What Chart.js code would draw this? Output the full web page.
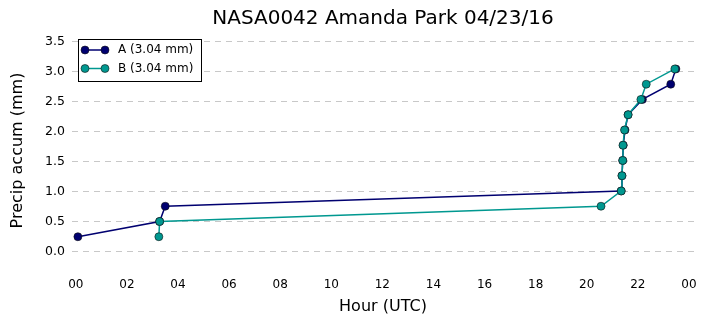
<!DOCTYPE html>
<html>
<head>
<meta charset="utf-8">
<script src="https://cdn.jsdelivr.net/npm/chart.js@4/dist/chart.umd.min.js"></script>
<style>
  html, body { margin: 0; padding: 0; background: #fff; }
  #wrap { width: 706px; height: 326px; }
</style>
</head>
<body>
<div id="wrap"><canvas id="chart" width="706" height="326"></canvas></div>
<script>
// gauge A and B, hour of day (UTC) at each 0.254 mm tip
const hoursA = [0.08, 3.28, 3.5, 21.35, 21.38, 21.41, 21.43, 21.5, 21.62, 22.18, 23.29, 23.49];
const accumA = [0.254, 0.508, 0.762, 1.016, 1.27, 1.524, 1.778, 2.032, 2.286, 2.54, 2.794, 3.048];
const hoursB = [3.25, 3.28, 20.56, 21.35, 21.38, 21.41, 21.42, 21.48, 21.62, 22.12, 22.33, 23.45];
const accumB = [0.254, 0.508, 0.762, 1.016, 1.27, 1.524, 1.778, 2.032, 2.286, 2.54, 2.794, 3.048];
const seriesLabels = ["A (3.04 mm)", "B (3.04 mm)"];
const xTicks = [0, 2, 4, 6, 8, 10, 12, 14, 16, 18, 20, 22, 24];
const yTicks = [0, 0.5, 1, 1.5, 2, 2.5, 3, 3.5];
const chartTitle = "NASA0042 Amanda Park 04/23/16";

const FONT = "'DejaVu Sans', sans-serif";
const colors = ["#000070", "#009890"];

const toPoints = (xs, ys) => xs.map((x, i) => ({ x: x, y: ys[i] }));

// title centred over the axes, matplotlib style legend in the upper left
const decorations = {
  id: "decorations",
  afterDraw(chart) {
    const ctx = chart.ctx;
    const area = chart.chartArea;
    ctx.save();
    ctx.fillStyle = "#000";
    ctx.font = "20px " + FONT;
    ctx.textAlign = "center";
    ctx.textBaseline = "middle";
    ctx.fillText(chartTitle, (area.left + area.right) / 2, 19);

    const x0 = area.left + 6, y0 = area.top + 8;
    const w = 123, h = 42;
    ctx.textAlign = "left";
    ctx.fillStyle = "#fff";
    ctx.fillRect(x0, y0, w, h);
    ctx.strokeStyle = "#000";
    ctx.lineWidth = 1;
    ctx.strokeRect(x0 + 0.5, y0 + 0.5, w, h);
    chart.data.datasets.forEach((ds, i) => {
      const cy = y0 + 11 + i * 18.5;
      ctx.strokeStyle = ds.borderColor;
      ctx.lineWidth = 1.5;
      ctx.beginPath();
      ctx.moveTo(x0 + 7, cy);
      ctx.lineTo(x0 + 27, cy);
      ctx.stroke();
      [x0 + 7, x0 + 27].forEach(px => {
        ctx.beginPath();
        ctx.arc(px, cy, 4, 0, Math.PI * 2);
        ctx.fillStyle = ds.pointBackgroundColor;
        ctx.fill();
        ctx.strokeStyle = "#111";
        ctx.lineWidth = 0.6;
        ctx.stroke();
      });
      ctx.fillStyle = "#000";
      ctx.font = "12px " + FONT;
      ctx.textBaseline = "middle";
      ctx.fillText(ds.label, x0 + 40, cy);
    });
    ctx.restore();
  }
};

new Chart(document.getElementById("chart").getContext("2d"), {
  type: "line",
  data: {
    datasets: [
      {
        label: seriesLabels[0],
        data: toPoints(hoursA, accumA),
        order: 1,
        borderColor: colors[0],
        pointBackgroundColor: colors[0],
        pointBorderColor: "#111",
        pointBorderWidth: 0.6,
        pointRadius: 4,
        borderWidth: 1.5,
        tension: 0,
      },
      {
        label: seriesLabels[1],
        data: toPoints(hoursB, accumB),
        order: 0,
        borderColor: colors[1],
        pointBackgroundColor: colors[1],
        pointBorderColor: "#111",
        pointBorderWidth: 0.6,
        pointRadius: 4,
        borderWidth: 1.5,
        tension: 0,
      },
    ],
  },
  options: {
    responsive: false,
    animation: false,
    layout: { padding: { left: 0, right: 12, top: 31, bottom: 0 } },
    plugins: {
      legend: { display: false },
      tooltip: { enabled: false },
      title: { display: false },
    },
    scales: {
      x: {
        type: "linear",
        min: -0.15,
        max: 24.2,
        afterBuildTicks: s => { s.ticks = xTicks.map(v => ({ value: v })); },
        afterFit: s => { s.height = 56; },
        grid: { display: false, drawTicks: false },
        border: { display: false },
        ticks: {
          color: "#000",
          font: { family: FONT, size: 12 },
          padding: 8,
          maxRotation: 0,
          callback: v => String(v % 24).padStart(2, "0"),
        },
        title: {
          display: true,
          text: "Hour (UTC)",
          color: "#000",
          font: { family: FONT, size: 16 },
          padding: { top: 0, bottom: 10 },
        },
      },
      y: {
        min: -0.3,
        max: 3.68,
        afterBuildTicks: s => { s.ticks = yTicks.map(v => ({ value: v })); },
        afterFit: s => { s.width = 72; },
        grid: {
          color: "#c8c8c8",
          lineWidth: 1,
          drawTicks: false,
        },
        border: { display: false, dash: [6, 5] },
        ticks: {
          color: "#000",
          font: { family: FONT, size: 12.5 },
          padding: 7,
          callback: v => v.toFixed(1),
        },
        title: {
          display: true,
          text: "Precip accum (mm)",
          color: "#000",
          font: { family: FONT, size: 16 },
          padding: { top: 8, bottom: 4 },
        },
      },
    },
  },
  plugins: [decorations],
});
</script>
</body>
</html>
